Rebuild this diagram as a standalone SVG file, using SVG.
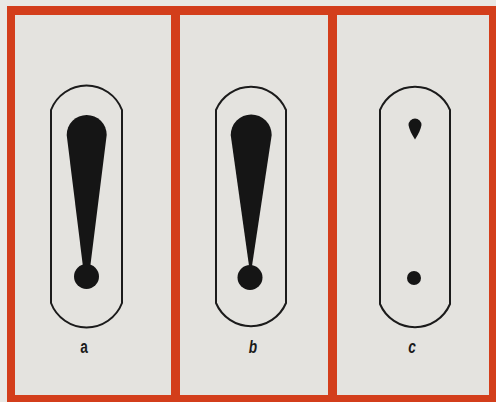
<svg xmlns="http://www.w3.org/2000/svg" width="496" height="402" viewBox="0 0 496 402">
<style>
.panel{fill:#e4e3df}
.cap{fill:none;stroke:#1b1b1b;stroke-width:2}
.ink{fill:#151515}
.lbl{font-family:"Liberation Sans",Arial,sans-serif;font-weight:bold;font-size:19px;fill:#1a1a1a;text-anchor:middle}
</style>
<rect x="0" y="0" width="496" height="402" fill="#e9e8e4"/>
<rect x="7" y="6" width="489" height="396" fill="#d33e1b"/>
<g id="panel-a">
<rect class="panel" x="15" y="15" width="156" height="380"/>
<path class="cap" d="M51,110 A38,38 0 0 1 122,110 L122,303 A38,38 0 0 1 51,303 Z"/>
<path class="ink" d="M66.7,135 A20,20 0 0 1 106.7,135 L90.2,267 L83,267 Z"/>
<circle class="ink" cx="86.5" cy="276.5" r="12.5"/>
<text class="lbl" transform="translate(84,353) scale(0.72,1)">a</text>
</g>
<g id="panel-b">
<rect class="panel" x="180" y="15" width="148" height="380"/>
<path class="cap" d="M216,110 A38,38 0 0 1 286,110 L286,303 A38,38 0 0 1 216,303 Z"/>
<path class="ink" d="M230.7,135 A20.5,20.5 0 0 1 271.7,135 L251.4,270 L249.6,270 Z"/>
<circle class="ink" cx="250" cy="277.5" r="12.5"/>
<text class="lbl" font-style="italic" transform="translate(253,353) scale(0.72,1)">b</text>
</g>
<g id="panel-c">
<rect class="panel" x="337" y="15" width="152" height="380"/>
<path class="cap" d="M380,110 A38,38 0 0 1 450,110 L450,304 A38,38 0 0 1 380,304 Z"/>
<path class="ink" d="M408.5,125 A6.5,6.5 0 0 1 421.5,125 Q420.5,131 415,139.5 Q409.5,131 408.5,125 Z"/>
<circle class="ink" cx="414" cy="278" r="7"/>
<text class="lbl" font-style="italic" transform="translate(412,353) scale(0.72,1)">c</text>
</g>
<g id="connectors"/>
</svg>
